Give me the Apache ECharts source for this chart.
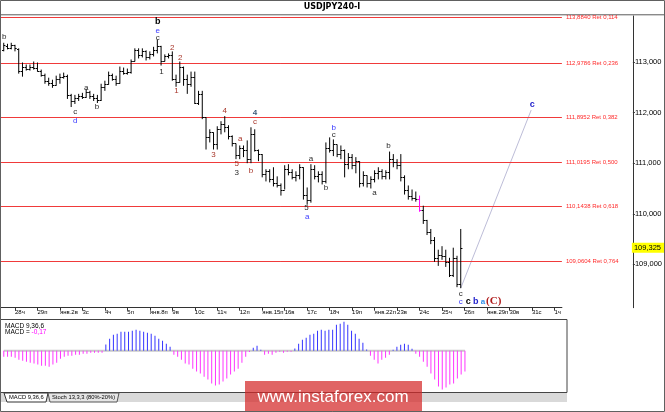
<!DOCTYPE html>
<html><head><meta charset="utf-8">
<script src="https://cdn.jsdelivr.net/npm/echarts@6/dist/echarts.min.js"></script>
<style>html,body{margin:0;padding:0;background:#fff}#c{width:665px;height:412px}</style>
</head><body><div id="c"></div>
<script>
// ---------- data ----------
const symbolTitle = 'USDJPY240-I';
const dayLabels = ['28ч','29п','янв.2в','3с','4ч','5п','янв.8п','9в','10с','11ч','12п','янв.15п','16в','17с','18ч','19п','янв.22п','23в','24с','25ч','26п','янв.29п','30в','31с','1ч'];
const firstDaySlot = 4;      // slot of the first labelled day start
const barsPerDay = 6;        // H4 bars
const totalSlots = 151;
const firstBarSlot = 1;
// [open, high, low, close]
const ohlc = [
[113.23,113.38,113.21,113.34],[113.32,113.36,113.25,113.28],[113.28,113.38,113.25,113.34],[113.34,113.34,113.21,113.27],
[113.25,113.27,112.77,112.83],[112.83,112.99,112.71,112.91],[112.91,112.95,112.83,112.87],[112.87,112.95,112.83,112.91],
[112.91,113.01,112.85,112.89],[112.89,112.99,112.81,112.83],[112.83,112.85,112.71,112.75],[112.75,112.77,112.57,112.63],
[112.63,112.69,112.53,112.59],[112.59,112.65,112.49,112.55],[112.55,112.73,112.53,112.67],[112.67,112.77,112.57,112.71],
[112.71,112.79,112.67,112.73],[112.73,112.75,112.27,112.35],[112.35,112.37,112.11,112.23],[112.23,112.35,112.17,112.29],
[112.29,112.37,112.23,112.33],[112.33,112.39,112.27,112.31],[112.31,112.47,112.29,112.41],[112.41,112.43,112.27,112.33],
[112.33,112.37,112.23,112.29],[112.29,112.35,112.19,112.25],[112.25,112.57,112.23,112.51],[112.51,112.63,112.43,112.57],
[112.57,112.81,112.55,112.75],[112.75,112.77,112.63,112.67],[112.67,112.73,112.53,112.59],[112.59,112.91,112.57,112.83],
[112.83,112.89,112.75,112.79],[112.79,112.87,112.75,112.81],[112.81,113.05,112.77,113.01],[113.01,113.27,113.01,113.23],
[113.23,113.27,113.07,113.13],[113.13,113.27,113.09,113.21],[113.21,113.23,113.03,113.09],[113.09,113.21,113.05,113.15],
[113.15,113.30,113.11,113.23],[113.23,113.44,113.17,113.32],[113.32,113.32,112.93,113.01],[113.01,113.15,113.01,113.11],
[113.11,113.17,113.07,113.13],[113.13,113.21,112.63,112.67],[112.67,112.75,112.51,112.61],[112.61,113.01,112.59,112.91],
[112.91,112.91,112.53,112.67],[112.67,112.75,112.37,112.57],[112.57,112.81,112.51,112.71],[112.71,112.81,112.17,112.19],
[112.19,112.43,112.15,112.37],[112.37,112.43,111.87,111.91],[111.91,111.91,111.27,111.51],[111.51,111.67,111.41,111.61],
[111.61,111.61,111.27,111.37],[111.37,111.73,111.27,111.67],[111.67,111.83,111.57,111.77],[111.77,111.93,111.61,111.71],
[111.71,111.75,111.47,111.53],[111.53,111.55,111.33,111.39],[111.39,111.39,111.08,111.16],[111.16,111.35,111.08,111.31],
[111.31,111.35,111.12,111.27],[111.27,111.45,111.00,111.08],[111.08,111.71,111.00,111.57],[111.57,111.67,111.23,111.27],
[111.27,111.27,111.04,111.18],[111.18,111.18,110.72,110.78],[110.78,110.88,110.64,110.84],[110.84,110.88,110.62,110.68],
[110.68,110.92,110.54,110.60],[110.60,110.74,110.52,110.56],[110.56,110.60,110.36,110.48],[110.48,110.96,110.48,110.88],
[110.88,110.98,110.76,110.82],[110.82,110.88,110.68,110.72],[110.72,110.84,110.64,110.76],[110.76,110.98,110.68,110.92],
[110.92,110.92,110.28,110.38],[110.38,110.52,110.18,110.28],[110.28,110.98,110.22,110.88],[110.88,110.96,110.68,110.74],
[110.74,110.84,110.62,110.78],[110.78,110.84,110.58,110.64],[110.64,111.41,110.60,111.31],[111.31,111.51,111.21,111.27],
[111.27,111.47,111.14,111.37],[111.37,111.37,111.12,111.18],[111.18,111.35,111.08,111.27],[111.27,111.27,110.72,110.98],
[110.98,111.20,110.88,111.12],[111.12,111.18,110.88,110.96],[110.96,111.12,110.80,111.04],[111.04,111.04,110.52,110.60],
[110.60,110.84,110.54,110.76],[110.76,110.76,110.52,110.60],[110.60,110.74,110.50,110.68],[110.68,110.86,110.62,110.80],
[110.80,110.92,110.68,110.84],[110.84,110.88,110.68,110.74],[110.74,110.86,110.68,110.82],[110.82,111.23,110.68,111.08],
[111.08,111.18,110.92,111.02],[111.02,111.08,110.88,110.96],[110.96,111.18,110.64,110.72],[110.72,110.76,110.38,110.48],
[110.48,110.56,110.28,110.36],[110.36,110.48,110.26,110.32],[110.32,110.44,110.24,110.30],[110.30,110.36,110.04,110.08],
[110.08,110.16,109.80,109.88],[109.88,109.88,109.58,109.64],[109.64,109.70,109.40,109.48],[109.48,109.54,109.05,109.13],
[109.13,109.29,108.97,109.19],[109.19,109.36,109.09,109.17],[109.17,109.29,108.95,109.05],[109.05,109.13,108.75,108.79],
[108.79,109.33,108.75,109.13],[109.13,109.17,108.55,108.61],[108.61,109.70,108.53,109.325]
];
const markedBarSlot = 112;
const macd = [
-0.049,-0.049,-0.049,-0.057,-0.073,-0.081,-0.089,-0.097,-0.105,-0.113,-0.122,-0.122,-0.130,-0.113,-0.097,-0.065,-0.049,-0.040,-0.040,-0.032,-0.032,-0.024,-0.024,-0.016,-0.016,-0.016,-0.016,
0.050,0.097,0.130,0.138,0.154,0.154,0.154,0.162,0.170,0.162,0.154,0.146,0.138,0.122,0.097,0.081,0.057,0.032,
-0.032,-0.050,-0.073,-0.105,-0.113,-0.146,-0.170,-0.186,-0.211,-0.235,-0.267,-0.284,-0.275,-0.251,-0.227,-0.194,-0.170,-0.146,-0.097,-0.049,-0.010,
0.024,0.040,0.008,
-0.032,-0.024,-0.032,-0.016,-0.008,-0.016,-0.008,-0.008,
0.019,0.057,0.089,0.105,0.130,0.138,0.162,0.170,0.162,0.170,
0.170,0.211,0.219,0.235,0.211,0.162,0.138,0.097,0.065,0.010,
-0.040,-0.073,-0.105,-0.073,-0.057,-0.032,
0.008,0.032,0.049,0.057,0.049,0.016,
-0.024,-0.049,-0.089,-0.130,-0.186,-0.235,-0.292,-0.316,-0.300,-0.275,-0.267,-0.227,-0.194,-0.170
];
const macdLast = -0.17;
const fibLevels = [113.8840,112.9786,111.8952,111.0195,110.1438,109.0604];
const fibRatios = ['0,114','0,236','0,382','0,500','0,618','0,764'];
const priceTicks = [109,110,111,112,113];
const lastPrice = 109.325;
const priceRange = [108.144,113.909];
const macdRange = [-0.3402,0.2543];
const projection = [[123,108.53],[141.8,112.05]];
// [slot, price, text, degree]
const waveLabels = [
[1.1,113.50,'b','minor'],[42.1,113.80,'b','major'],[42.1,113.62,'e','blue'],[42.1,113.48,'c','minor'],
[43.1,112.81,'1','minor'],[46.0,113.28,'2','red'],[48.1,113.09,'2','red'],[47.1,112.43,'1','red'],
[20.1,112.01,'c','minor'],[20.1,111.83,'d','blue'],[23.0,112.49,'a','minor'],[25.9,112.11,'b','minor'],
[60.0,112.03,'4','red'],[68.1,111.99,'4','slate'],[68.1,111.81,'c','red'],[64.1,111.49,'a','red'],
[57.0,111.16,'3','red'],[63.2,110.98,'5','red'],[63.2,110.82,'3','minor'],[67.0,110.84,'b','red'],
[83.0,111.08,'a','minor'],[87.0,110.52,'b','minor'],[81.8,110.12,'5','minor'],[82.0,109.94,'a','blue'],
[89.1,111.69,'b','blue'],[89.1,111.57,'c','minor'],[103.7,111.35,'b','minor'],[100.0,110.42,'a','minor'],
[123.0,108.41,'c','minor'],[123.0,108.27,'c','blue'],[125.0,108.27,'c','major'],[127.0,108.27,'b','blueBold'],
[128.9,108.27,'a','cyan'],[131.8,108.27,'(C)','primary'],[142.1,112.15,'c','blueBold']
];

// ---------- chart ----------
const SANS = '"Liberation Sans", Arial, sans-serif';
const degreeStyle = {
  minor:{fill:'#2b2b2b', font:'8px '+SANS},
  major:{fill:'#000', font:'bold 9px '+SANS},
  red:{fill:'#a8362a', font:'8px '+SANS},
  blue:{fill:'#3b3bff', font:'8px '+SANS},
  slate:{fill:'#3a5a7a', font:'bold 8px '+SANS},
  blueBold:{fill:'#2222cc', font:'bold 9px '+SANS},
  cyan:{fill:'#2f8fe8', font:'bold 8px '+SANS},
  primary:{fill:'#b01c1c', font:'bold 11px "Liberation Serif", serif'}
};
const categories = [];
const slotLabel = [];
for (let k=0;k<totalSlots;k++){
  categories.push('s'+k);
  const j=k-firstDaySlot;
  slotLabel.push(j>=0 && j%barsPerDay===0 && j/barsPerDay<dayLabels.length ? dayLabels[j/barsPerDay] : '');
}
const showSlot = (i)=> slotLabel[i]!=='';
const fmtComma = (v,d)=> v.toFixed(d).replace('.',',');

function renderOHLC(params, api){
  const k=api.value(0);
  const o=api.coord([k,api.value(1)]), h=api.coord([k,api.value(2)]),
        l=api.coord([k,api.value(3)]), c=api.coord([k,api.value(4)]);
  const x=h[0], t=1.7;
  const col = (k===markedBarSlot)?'#ff00ff':'#000';
  return {type:'group', children:[
    {type:'line', shape:{x1:x,y1:h[1],x2:x,y2:l[1]}, style:{stroke:col,lineWidth:1}},
    {type:'line', shape:{x1:x-t,y1:Math.round(o[1])+0.5,x2:x,y2:Math.round(o[1])+0.5}, style:{stroke:col,lineWidth:1}},
    {type:'line', shape:{x1:x,y1:Math.round(c[1])+0.5,x2:x+t,y2:Math.round(c[1])+0.5}, style:{stroke:col,lineWidth:1}}
  ]};
}
function renderLabel(params, api){
  const w=waveLabels[params.dataIndex];
  const p=api.coord([api.value(0),api.value(1)]);
  const s=degreeStyle[w[3]];
  return {type:'text', x:p[0], y:p[1], style:{text:w[2], fill:s.fill, font:s.font, align:'center', verticalAlign:'middle'}};
}

const fibMarks = fibLevels.map((v,i)=>({yAxis:v, label:{formatter: fmtComma(v,4)+' Ret '+fibRatios[i]}}));
fibMarks.push({yAxis:lastPrice, lineStyle:{color:'rgba(0,0,0,0)',width:0},
  label:{formatter: fmtComma(lastPrice,3), distance:70, color:'#000', fontSize:7.5, backgroundColor:'#ffff00', padding:[1,3,1,2], lineHeight:8}});

const option = {
  animation:false,
  backgroundColor:'#ffffff',
  grid:[
    {left:0, top:16, width:567, height:291.7},
    {left:0, top:319.5, width:567, height:73, show:true, borderColor:'#444', borderWidth:1, backgroundColor:'transparent'}
  ],
  xAxis:[
    {type:'category', gridIndex:0, data:categories, boundaryGap:false,
     axisLine:{onZero:false, lineStyle:{color:'#333',width:1}},
     axisTick:{interval:(i)=>showSlot(i), length:3, lineStyle:{color:'#333'}},
     axisLabel:{interval:(i)=>showSlot(i), formatter:(v,i)=>slotLabel[i], align:'left', fontSize:6, margin:2, color:'#000', fontFamily:SANS},
     splitLine:{show:false}},
    {type:'value', gridIndex:0, min:0, max:totalSlots-1, show:false},
    {type:'category', gridIndex:1, data:categories, boundaryGap:false, show:false}
  ],
  yAxis:[
    {type:'value', gridIndex:0, position:'right', offset:71, min:priceRange[0], max:priceRange[1],
     axisLine:{show:true, onZero:false, lineStyle:{color:'#333',width:1}},
     axisTick:{show:true, length:2, customValues:priceTicks, lineStyle:{color:'#333'}},
     axisLabel:{customValues:priceTicks, formatter:(v)=>fmtComma(v,3), fontSize:7.5, margin:2, color:'#000', fontFamily:SANS},
     splitLine:{show:false}},
    {type:'value', gridIndex:1, min:macdRange[0], max:macdRange[1], show:false}
  ],
  series:[
    {type:'line', xAxisIndex:1, yAxisIndex:0, data:projection, symbol:'none', z:1,
     lineStyle:{color:'#bdbdd8', width:1}},
    {type:'custom', name:'price', xAxisIndex:0, yAxisIndex:0, z:3,
     data: ohlc.map((b,i)=>[i+firstBarSlot,b[0],b[1],b[2],b[3]]),
     encode:{x:0, y:[1,2,3,4]}, renderItem:renderOHLC,
     markLine:{symbol:'none', silent:true, animation:false, z:2,
       lineStyle:{color:'#f03a3a', width:1, type:'solid'},
       label:{position:'end', color:'#ff2a2a', fontSize:6, distance:4, fontFamily:SANS},
       data:fibMarks}},
    {type:'custom', name:'waves', xAxisIndex:1, yAxisIndex:0, z:5,
     data: waveLabels.map(w=>[w[0],w[1]]), encode:{x:0,y:1}, renderItem:renderLabel},
    {type:'line', xAxisIndex:2, yAxisIndex:1, data:[[firstBarSlot,0],[firstBarSlot+macd.length-1,0]], symbol:'none', z:1,
     lineStyle:{color:'#c8c8c8', width:2}},
    {type:'bar', xAxisIndex:2, yAxisIndex:1, barWidth:1, z:2,
     data: macd.map((v,i)=>[i+firstBarSlot,v]),
     itemStyle:{color:(p)=> p.value[1]>=0 ? '#3535ff' : '#ff35ff'}}
  ],
  graphic:[
    {type:'text', x:332, y:7, style:{text:symbolTitle, font:'bold 8px "DejaVu Sans", sans-serif', fill:'#000', align:'center', verticalAlign:'middle'}},
    {type:'rect', shape:{x:0,y:14,width:665,height:1}, style:{fill:'#8a8a8a'}},
    {type:'rect', shape:{x:0,y:15,width:665,height:1}, style:{fill:'#cfcfcf'}},
    {type:'text', x:5, y:326, style:{text:'MACD 9,36,6', font:'6.5px '+SANS, fill:'#000', verticalAlign:'middle'}},
    {type:'text', x:5, y:332.5, style:{text:'{a|MACD = }{b|'+fmtComma(macdLast,2)+'}', verticalAlign:'middle',
      rich:{a:{font:'6.5px '+SANS, fill:'#000'}, b:{font:'6.5px '+SANS, fill:'#ff00ff'}}}},
    {type:'rect', shape:{x:0,y:393,width:567,height:9}, style:{fill:'#d9d9d9'}},
    {type:'polygon', shape:{points:[[4,393],[48,393],[46,402],[7,402]]}, style:{fill:'#ffffff', stroke:'#333', lineWidth:1}},
    {type:'polygon', shape:{points:[[48,393],[119,393],[117,402],[50,402]]}, style:{fill:'#e6e6e6', stroke:'#555', lineWidth:1}},
    {type:'text', x:9, y:397.8, style:{text:'MACD 9,36,6', font:'5.8px '+SANS, fill:'#000', verticalAlign:'middle'}},
    {type:'text', x:52, y:397.8, style:{text:'Stoch 13,3,3 (80%-20%)', font:'5.8px '+SANS, fill:'#000', verticalAlign:'middle'}},
    {type:'rect', z:100, shape:{x:245,y:381,width:177,height:31}, style:{fill:'rgba(212,40,40,0.72)'}},
    {type:'text', z:101, x:333, y:397, style:{text:'www.instaforex.com', font:'17px '+SANS, fill:'#ffffff', align:'center', verticalAlign:'middle'}},
    {type:'rect', z:102, shape:{x:0.5,y:0.5,width:664,height:411}, style:{fill:'none', stroke:'#606060', lineWidth:1}}
  ]
};
const chart = echarts.init(document.getElementById('c'), null, {renderer:'canvas'});
chart.setOption(option);
</script>
</body></html>
